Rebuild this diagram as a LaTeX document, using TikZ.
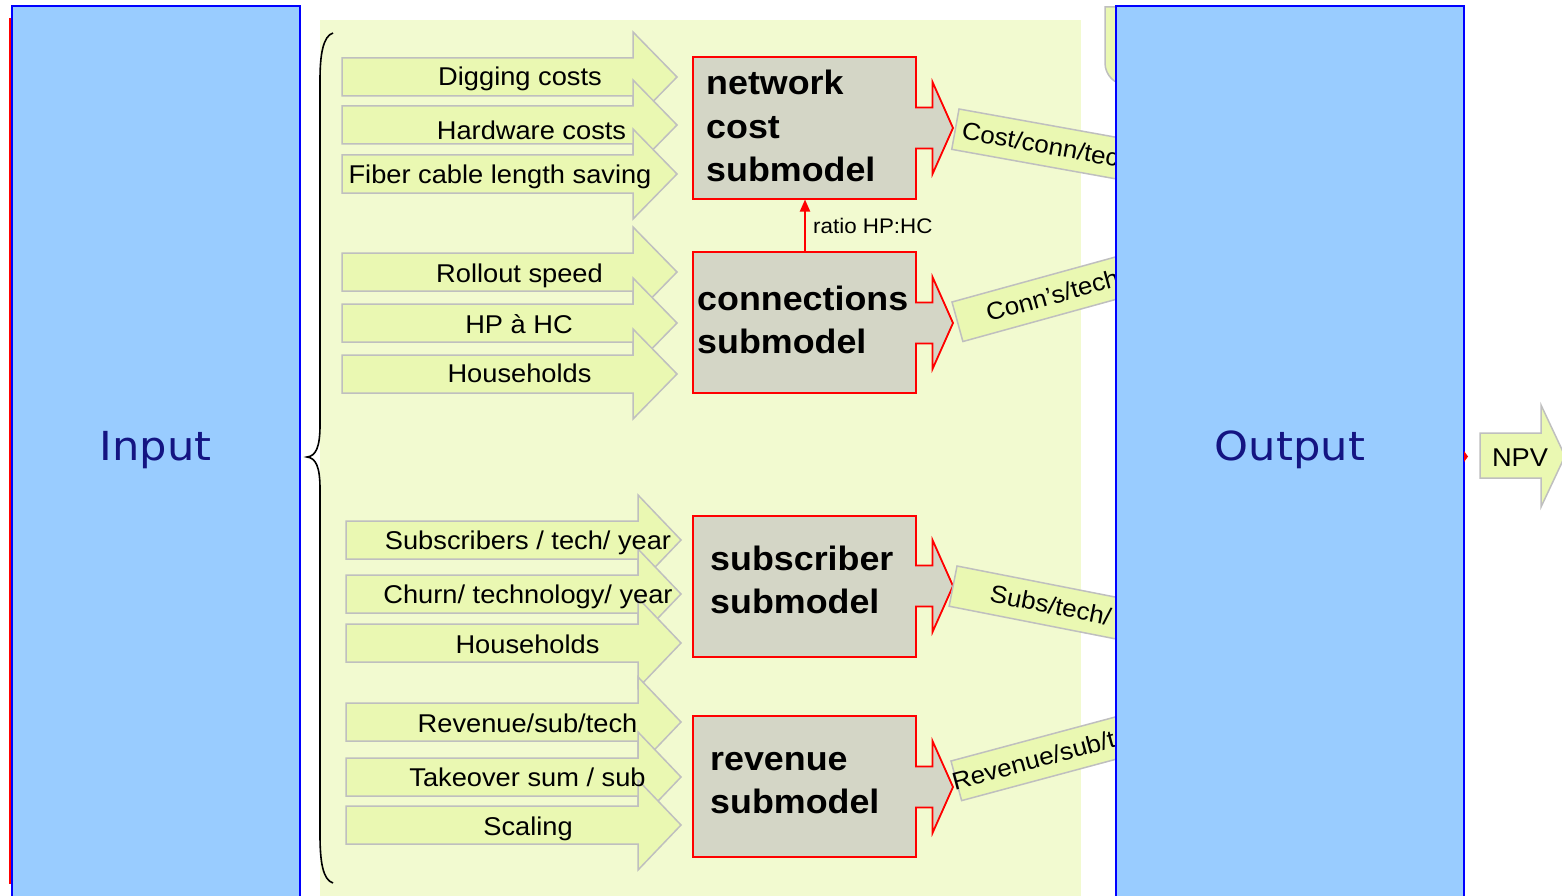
\documentclass[tikz,border=0pt]{standalone}
\usepackage{fontspec}
\setmainfont{Liberation Sans}
\newfontfamily\labfont[FakeStretch=1.06]{Liberation Sans}
\newfontfamily\sidefont[FakeStretch=1.08]{DejaVu Sans}
\usetikzlibrary{arrows.meta}

\definecolor{panel}{HTML}{F2FAD0}
\definecolor{arrowfill}{HTML}{EAF8B2}
\definecolor{arrowline}{HTML}{BFBFBF}
\definecolor{boxfill}{HTML}{D4D6C6}
\definecolor{sidefill}{HTML}{99CCFF}
\definecolor{sidetext}{HTML}{141482}

\tikzset{
  arrowbox/.style={fill=arrowfill, draw=arrowline, line width=1.5pt, line join=miter},
  subbox/.style={fill=boxfill, draw=red, line width=1.8pt, line join=miter},
  sidebox/.style={fill=sidefill, draw=blue, line width=2pt},
  brace/.style={draw=black, line width=1.6pt},
  lbl/.style={font=\labfont\fontsize{25.7}{30}\selectfont, inner sep=0pt, anchor=base},
  boldlbl/.style={font=\labfont\bfseries\fontsize{33.8}{40}\selectfont, inner sep=0pt, anchor=base west},
  striplbl/.style={font=\labfont\fontsize{24.5}{29}\selectfont, inner sep=0pt, anchor=base west, transform shape},
  ratiolbl/.style={font=\labfont\fontsize{21.1}{25}\selectfont, inner sep=0pt, anchor=base west},
  sidelbl/.style={font=\sidefont\fontsize{40}{48}\selectfont, text=sidetext, inner sep=0pt, anchor=base},
  ratioarrow/.style={draw=red, line width=2pt, -{Triangle[length=12pt,width=10pt]}},
}

% input block arrow: left x, head base x, tip x, centre y
\newcommand\InArrow[4]{%
  \draw[arrowbox] (#1,#4-19) -- (#2,#4-19) -- (#2,#4-45) -- (#3,#4)
    -- (#2,#4+45) -- (#2,#4+19) -- (#1,#4+19) -- cycle;}

% submodel box with its outlet arrow: top y, bottom y, outlet centre y
\newcommand\SubModel[3]{%
  \draw[subbox] (693,#1) -- (916,#1) -- (916,#3-20.5) -- (932.5,#3-20.5)
    -- (932.5,#3-46) -- (953,#3) -- (932.5,#3+46) -- (932.5,#3+20.5)
    -- (916,#3+20.5) -- (916,#2) -- (693,#2) -- cycle;}

% tilted result strip: corner x, corner y, angle, text offset, text, name
\newcommand\Strip[6]{%
  \begin{scope}[shift={(#1,#2)}, rotate=#3]
    \draw[arrowbox] (0,0) rectangle (240,41);
    \node[striplbl] (#6) at (#4,29) {#5};
  \end{scope}}

\begin{document}
\begin{tikzpicture}[x=1pt, y=-1pt]
\useasboundingbox (0,0) rectangle (1562,896);
\clip (0,0) rectangle (1562,896);

% input column
\draw[draw=red, line width=2.5pt] (10.5,19) rectangle (150,883);
\draw[sidebox] (12,6) rectangle (300,910);

% model panel
\fill[panel] (320,20) rectangle (1081,910);

% brace
\draw[brace] (333,33) .. controls (323,36) and (320,55) .. (320,80)
  -- (320,425) .. controls (320,447) and (316,456) .. (307,457)
  .. controls (316,458) and (320,467) .. (320,489)
  -- (320,835) .. controls (320,862) and (323,880) .. (333,883);

% input arrows, upper group
\InArrow{342}{633}{677}{77}
\InArrow{342}{633}{677}{125}
\InArrow{342}{633}{677}{174}
\InArrow{342}{633}{677}{272}
\InArrow{342}{633}{677}{323}
\InArrow{342}{633}{677}{374}
\node[lbl] (dig)  at (520,86)    {Digging costs};
\node[lbl] (hw)   at (531.5,140) {Hardware costs};
\node[lbl] (fib)  at (500,183)   {Fiber cable length saving};
\node[lbl] (roll) at (519.5,282) {Rollout speed};
\node[lbl] (hphc) at (519,333)   {HP à HC};
\node[lbl] (hh1)  at (519.5,382.5) {Households};

% input arrows, lower group
\InArrow{346}{638}{681}{540}
\InArrow{346}{638}{681}{594}
\InArrow{346}{638}{681}{643}
\InArrow{346}{638}{681}{722}
\InArrow{346}{638}{681}{777}
\InArrow{346}{638}{681}{825}
\node[lbl] (subs)  at (528,549.5) {Subscribers / tech/ year};
\node[lbl] (churn) at (528,603.5) {Churn/ technology/ year};
\node[lbl] (hh2)   at (527.5,653) {Households};
\node[lbl] (rev)   at (527.5,732) {Revenue/sub/tech};
\node[lbl] (take)  at (527.5,786.5) {Takeover sum / sub};
\node[lbl] (scal)  at (528,835.5) {Scaling};

% submodels
\SubModel{57}{199}{128}
\SubModel{252}{393}{323}
\SubModel{516}{657}{586}
\SubModel{716}{857}{787}
\node[boldlbl] (net1) at (706,95)    {network};
\node[boldlbl] (net2) at (706,138.5) {cost};
\node[boldlbl] (net3) at (706,182)   {submodel};
\node[boldlbl] (con1) at (697,310)   {connections};
\node[boldlbl] (con2) at (697,353)   {submodel};
\node[boldlbl] (sub1) at (710,570)   {subscriber};
\node[boldlbl] (sub2) at (710,613)   {submodel};
\node[boldlbl] (rvm1) at (710,770)   {revenue};
\node[boldlbl] (rvm2) at (710,813)   {submodel};

% hand-over between connections and network cost
\coordinate (conntop) at (805,252);
\coordinate (netbase) at (805,199.5);
\draw[ratioarrow] (conntop) -- (netbase);
\node[ratiolbl] (ratio) at (813,233) {ratio HP:HC};

% results passed on to the output
\Strip{959}{109}{-10.2}{7}{Cost/conn/tech}{res1}
\Strip{952}{302}{15.4}{30}{Conn’s/tech}{res2}
\Strip{957}{566}{-11.1}{38}{Subs/tech/}{res3}
\Strip{951}{761}{15}{-4}{Revenue/sub/tech}{res4}

% shape tucked behind the output column
\draw[arrowbox] (1200,7) -- (1105,7) [rounded corners=22pt] -- (1105,85) -- (1200,85);

% output column
\draw[sidebox] (1116,6) rectangle (1464,910);
\fill[red] (1464,451) -- (1468,456.5) -- (1464,462) -- cycle;

% NPV
\draw[arrowbox] (1480,433) -- (1541,433) -- (1541,405) -- (1565,456)
  -- (1541,507) -- (1541,478) -- (1480,478) -- cycle;
\node[lbl] (npv) at (1520,466) {NPV};

\node[sidelbl] (inlbl)  at (155.5,460) {Input};
\node[sidelbl] (outlbl) at (1290,460)  {Output};
\end{tikzpicture}
\end{document}
